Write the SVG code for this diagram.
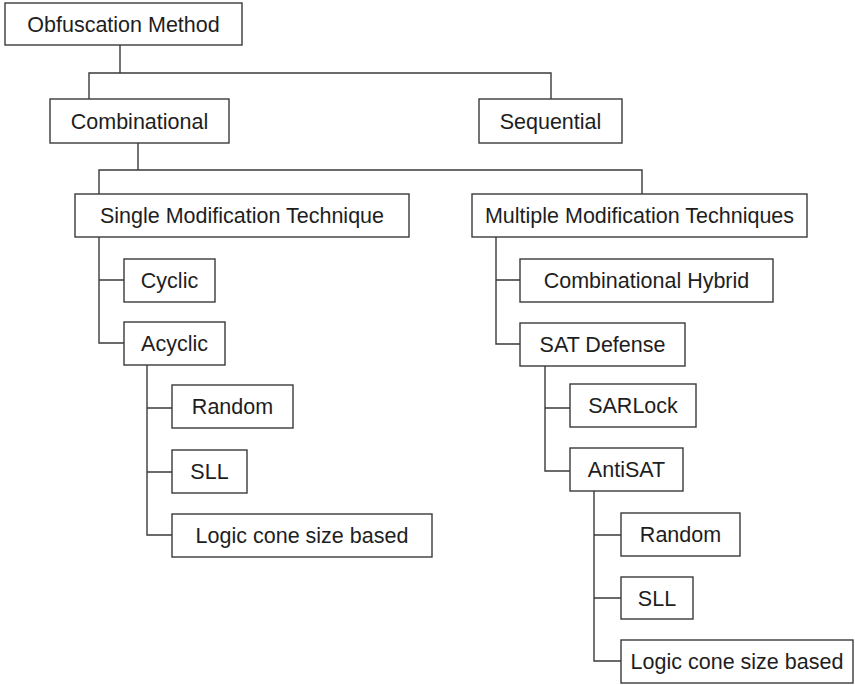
<svg xmlns="http://www.w3.org/2000/svg" width="855" height="685" viewBox="0 0 855 685">
  <style>
    .box { fill: #ffffff; stroke: #3a3a3a; stroke-width: 1.4; }
    .lbl { font-family: "Liberation Sans", Arial, sans-serif; font-size: 21.5px; fill: #1e1e1e; text-anchor: middle; }
    .wire { fill: none; stroke: #3a3a3a; stroke-width: 1.4; }
  </style>
  <rect width="855" height="685" fill="#ffffff"/>

  <!-- tree connectors -->
  <g id="connectors">
    <path class="wire" d="M120,45 V73 M89,99 V73 H551 V99"/>
    <path class="wire" d="M138,143 V170 M99,194 V170 H642 V194"/>
    <path class="wire" d="M99,237 V343 H124 M99,280 H124"/>
    <path class="wire" d="M147,365 V535 H172 M147,408 H172 M147,472 H172"/>
    <path class="wire" d="M496,237 V344 H520 M496,280 H520"/>
    <path class="wire" d="M545,366 V471 H570 M545,408 H570"/>
    <path class="wire" d="M594,491 V661 H621 M594,535 H621 M594,598 H621"/>
  </g>

  <g id="obfuscation-method">
    <rect class="box" x="5" y="3" width="237" height="42"/>
    <text class="lbl" x="123.5" y="31.5">Obfuscation Method</text>
  </g>
  <g id="combinational">
    <rect class="box" x="50" y="99" width="179" height="44"/>
    <text class="lbl" x="139.5" y="128.5">Combinational</text>
  </g>
  <g id="sequential">
    <rect class="box" x="479" y="99" width="143" height="44"/>
    <text class="lbl" x="550.5" y="128.5">Sequential</text>
  </g>
  <g id="single-modification">
    <rect class="box" x="75" y="194" width="334" height="43"/>
    <text class="lbl" x="242" y="223">Single Modification Technique</text>
  </g>
  <g id="multiple-modification">
    <rect class="box" x="472" y="194" width="335" height="43"/>
    <text class="lbl" x="639.5" y="223">Multiple Modification Techniques</text>
  </g>
  <g id="cyclic">
    <rect class="box" x="124" y="259" width="91" height="43"/>
    <text class="lbl" x="169.5" y="288">Cyclic</text>
  </g>
  <g id="acyclic">
    <rect class="box" x="124" y="322" width="101" height="43"/>
    <text class="lbl" x="174.5" y="351">Acyclic</text>
  </g>
  <g id="acyclic-random">
    <rect class="box" x="172" y="385" width="121" height="43"/>
    <text class="lbl" x="232.5" y="414">Random</text>
  </g>
  <g id="acyclic-sll">
    <rect class="box" x="172" y="450" width="75" height="43"/>
    <text class="lbl" x="209.5" y="479">SLL</text>
  </g>
  <g id="acyclic-logic-cone">
    <rect class="box" x="172" y="514" width="260" height="43"/>
    <text class="lbl" x="302" y="543">Logic cone size based</text>
  </g>
  <g id="combinational-hybrid">
    <rect class="box" x="520" y="259" width="253" height="43"/>
    <text class="lbl" x="646.5" y="288">Combinational Hybrid</text>
  </g>
  <g id="sat-defense">
    <rect class="box" x="520" y="323" width="165" height="43"/>
    <text class="lbl" x="602.5" y="352">SAT Defense</text>
  </g>
  <g id="sarlock">
    <rect class="box" x="570" y="384" width="126" height="43"/>
    <text class="lbl" x="633" y="413">SARLock</text>
  </g>
  <g id="antisat">
    <rect class="box" x="570" y="448" width="113" height="43"/>
    <text class="lbl" x="626.5" y="477">AntiSAT</text>
  </g>
  <g id="antisat-random">
    <rect class="box" x="621" y="513" width="119" height="43"/>
    <text class="lbl" x="680.5" y="542">Random</text>
  </g>
  <g id="antisat-sll">
    <rect class="box" x="621" y="577" width="72" height="42"/>
    <text class="lbl" x="657" y="605.5">SLL</text>
  </g>
  <g id="antisat-logic-cone">
    <rect class="box" x="621" y="640" width="232" height="43"/>
    <text class="lbl" x="737" y="669">Logic cone size based</text>
  </g>
</svg>
